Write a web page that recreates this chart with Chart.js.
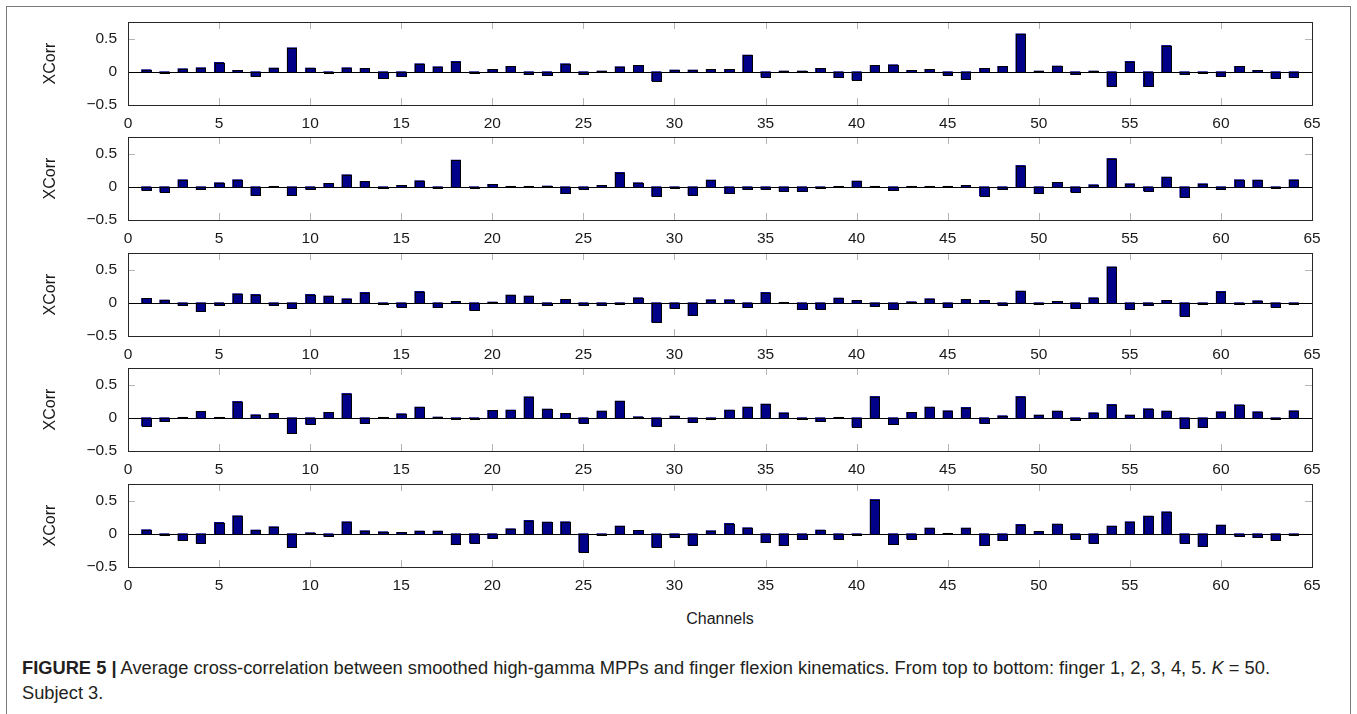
<!DOCTYPE html>
<html>
<head>
<meta charset="utf-8">
<title>Average cross-correlation per channel</title>
<script src="https://cdn.jsdelivr.net/npm/chart.js@4/dist/chart.umd.min.js"></script>
<style>
  html, body { margin: 0; padding: 0; background: #ffffff; }
  body { width: 1357px; height: 714px; position: relative; overflow: hidden;
         font-family: "Liberation Sans", Arial, Helvetica, sans-serif; }
  .frame { position: absolute; left: 6px; top: 6px; width: 1345px; height: 760px;
           border: 1px solid #7a7a7a; box-sizing: border-box; }
  canvas.panel { position: absolute; left: 0; }
  .xlabel { position: absolute; top: 610px; left: 620px; width: 200px; text-align: center;
            font-size: 16px; color: #1a1a1a; }
  .caption { position: absolute; left: 22px; top: 655px; width: 1330px; font-size: 18.3px;
             line-height: 25px; color: #231f20; white-space: nowrap; }
  .caption b { font-weight: bold; }
</style>
</head>
<body>
<div class="frame"></div>
<div id="panels"></div>
<div class="xlabel">Channels</div>
<div class="caption"><b>FIGURE 5 |</b> Average cross-correlation between smoothed high-gamma MPPs and finger flexion kinematics. From top to bottom: finger 1, 2, 3, 4, 5. <i>K</i> = 50.<br>Subject 3.</div>

<script>
// Electrode channels 1..64
const channels = [1,2,3,4,5,6,7,8,9,10,11,12,13,14,15,16,17,18,19,20,21,22,23,24,25,26,27,28,29,30,31,32,
                  33,34,35,36,37,38,39,40,41,42,43,44,45,46,47,48,49,50,51,52,53,54,55,56,57,58,59,60,61,62,63,64];

// Mean cross-correlation per channel, one array per finger
const finger1 = [0.03,-0.02,0.045,0.06,0.14,0.02,-0.065,0.055,0.36,0.055,-0.01,0.06,0.05,-0.10,-0.07,0.12,
                 0.075,0.155,-0.02,0.035,0.08,-0.04,-0.045,0.12,-0.04,0.01,0.075,0.095,-0.135,0.025,0.025,0.035,
                 0.035,0.25,-0.075,0.01,0.01,0.05,-0.085,-0.12,0.095,0.105,0.02,0.035,-0.045,-0.115,0.05,0.08,
                 0.57,0.01,0.085,-0.04,0.01,-0.215,0.155,-0.22,0.395,-0.035,-0.015,-0.065,0.08,0.02,-0.09,-0.08];
const finger2 = [-0.05,-0.075,0.105,-0.04,0.06,0.105,-0.125,0.005,-0.13,-0.035,0.05,0.18,0.08,-0.025,0.02,0.09,
                 -0.02,0.40,-0.005,0.035,0.005,0.005,0.01,-0.10,-0.03,0.02,0.215,0.06,-0.14,-0.01,-0.12,0.1,
                 -0.10,-0.04,-0.035,-0.06,-0.07,-0.02,0.005,0.085,0.005,-0.05,0.005,0.005,0.005,0.02,-0.135,-0.04,
                 0.32,-0.10,0.065,-0.075,0.03,0.425,0.045,-0.06,0.145,-0.155,0.045,-0.035,0.105,0.1,-0.01,0.105];
const finger3 = [0.065,0.04,-0.035,-0.13,-0.035,0.135,0.125,-0.03,-0.08,0.125,0.10,0.06,0.155,-0.005,-0.06,0.17,
                 -0.07,0.02,-0.11,0.01,0.115,0.10,-0.035,0.05,-0.035,-0.04,-0.02,0.075,-0.29,-0.08,-0.19,0.045,
                 0.045,-0.07,0.155,0.005,-0.10,-0.09,0.07,0.035,-0.05,-0.095,0.015,0.06,-0.07,0.05,0.035,-0.03,
                 0.175,-0.025,0.02,-0.08,0.075,0.54,-0.09,-0.04,0.035,-0.195,-0.025,0.17,-0.025,0.03,-0.06,-0.025];
const finger4 = [-0.12,-0.055,0.005,0.095,0.005,0.245,0.045,0.065,-0.23,-0.095,0.08,0.365,-0.075,0.005,0.06,0.16,
                 0.01,-0.01,-0.01,0.11,0.115,0.315,0.13,0.065,-0.075,0.10,0.25,0.015,-0.125,0.025,-0.07,-0.025,
                 0.115,0.16,0.205,0.075,-0.025,-0.055,0.005,-0.135,0.32,-0.10,0.08,0.16,0.105,0.155,-0.08,0.03,
                 0.32,0.04,0.10,-0.04,0.075,0.20,0.04,0.135,0.10,-0.155,-0.145,0.09,0.195,0.09,-0.025,0.105];
const finger5 = [0.06,-0.02,-0.095,-0.135,0.17,0.27,0.055,0.105,-0.20,0.015,-0.035,0.18,0.045,0.03,0.02,0.04,
                 0.04,-0.16,-0.135,-0.07,0.075,0.20,0.175,0.18,-0.27,-0.02,0.115,0.05,-0.20,-0.05,-0.165,0.045,
                 0.155,0.09,-0.13,-0.175,-0.085,0.055,-0.08,-0.01,0.515,-0.16,-0.075,0.085,0.005,0.085,-0.175,-0.10,
                 0.14,0.035,0.145,-0.08,-0.14,0.115,0.18,0.265,0.33,-0.135,-0.19,0.13,-0.035,-0.055,-0.095,-0.02];

// Axis ticks
const xTicks = [0,5,10,15,20,25,30,35,40,45,50,55,60,65];
const yTicks = [-0.5, 0, 0.5];

const fingers = [finger1, finger2, finger3, finger4, finger5];

// Vertical placement of each panel's plot box
const plotTops = [22, 137, 253, 368, 484];
const PLOT_H = 83, PAD_TOP = 24, XAXIS_H = 30, YAXIS_W = 128, RIGHT_PAD = 45;

const FONT = '"Liberation Sans", Arial, Helvetica, sans-serif';

const fmt = v => (v < 0 ? '\u2212' + Math.abs(v) : String(v));

// Bar outlines (stroked on the edge so even tiny bars stay visible),
// zero line, inward tick marks and the plot frame
const boxPlugin = {
  id: 'boxPlugin',
  afterDatasetsDraw(chart) {
    const { ctx, chartArea: a, scales: { x, y } } = chart;
    ctx.save();
    ctx.lineWidth = 1;

    // inward tick marks
    ctx.strokeStyle = '#b4b4b4';
    const tl = 7;
    ctx.beginPath();
    xTicks.forEach(v => {
      if (v === 0 || v === 65) return;
      const px = Math.round(x.getPixelForValue(v)) + 0.5;
      ctx.moveTo(px, a.top); ctx.lineTo(px, a.top + tl);
      ctx.moveTo(px, a.bottom); ctx.lineTo(px, a.bottom - tl);
    });
    yTicks.forEach(v => {
      if (v === 0 || v === -0.5) return;
      const py = Math.round(y.getPixelForValue(v)) + 0.5;
      ctx.moveTo(a.left, py); ctx.lineTo(a.left + tl, py);
      ctx.moveTo(a.right, py); ctx.lineTo(a.right - tl, py);
    });
    ctx.stroke();

    // zero line
    ctx.strokeStyle = '#000000';
    const zy = Math.round(y.getPixelForValue(0)) + 0.5;
    ctx.beginPath();
    ctx.moveTo(a.left, zy); ctx.lineTo(a.right, zy);
    ctx.stroke();

    // bar outlines from the library's laid-out bar elements
    ctx.strokeStyle = '#000000';
    chart.getDatasetMeta(0).data.forEach(bar => {
      const left = Math.round(bar.x - bar.width / 2) + 0.5;
      const right = Math.round(bar.x + bar.width / 2) + 0.5;
      const t = Math.round(Math.min(bar.y, bar.base)) + 0.5;
      const b = Math.round(Math.max(bar.y, bar.base)) + 0.5;
      ctx.strokeRect(left, t, right - left, Math.max(b - t, 1));
    });

    // plot frame
    ctx.strokeStyle = '#262626';
    ctx.strokeRect(Math.round(a.left) + 0.5, Math.round(a.top) + 0.5,
                   Math.round(a.right - a.left), Math.round(a.bottom - a.top));
    ctx.restore();
  }
};

const holder = document.getElementById('panels');

fingers.forEach((values, i) => {
  const cv = document.createElement('canvas');
  cv.className = 'panel';
  cv.width = 1357;
  cv.height = PAD_TOP + PLOT_H + XAXIS_H;
  cv.style.top = (plotTops[i] - PAD_TOP) + 'px';
  cv.style.width = '1357px';
  cv.style.height = cv.height + 'px';
  holder.appendChild(cv);

  new Chart(cv.getContext('2d'), {
    type: 'bar',
    data: {
      datasets: [{
        data: channels.map((c, k) => ({ x: c, y: values[k] })),
        backgroundColor: '#000088',
        borderWidth: 0,
        inflateAmount: 0.5,
        barPercentage: 0.5,
        categoryPercentage: 1.0
      }]
    },
    options: {
      responsive: false,
      animation: false,
      devicePixelRatio: 1,
      layout: { padding: { top: PAD_TOP, right: RIGHT_PAD, left: 0, bottom: 0 } },
      plugins: { legend: { display: false }, tooltip: { enabled: false } },
      scales: {
        x: {
          type: 'linear',
          min: 0, max: 65,
          offset: false,
          grid: { display: false, drawTicks: false },
          border: { display: false },
          afterBuildTicks: s => { s.ticks = xTicks.map(v => ({ value: v })); },
          afterFit: s => { s.height = XAXIS_H; },
          ticks: {
            maxRotation: 0, autoSkip: false, padding: 9,
            color: '#1a1a1a',
            font: { family: FONT, size: 15.5 },
            callback: v => fmt(v)
          }
        },
        y: {
          min: -0.5, max: 0.75,
          grid: { display: false, drawTicks: false },
          border: { display: false },
          afterBuildTicks: s => { s.ticks = yTicks.map(v => ({ value: v })); },
          afterFit: s => { s.width = YAXIS_W; },
          ticks: {
            padding: 11,
            color: '#1a1a1a',
            font: { family: FONT, size: 15.5 },
            callback: v => fmt(v)
          },
          title: {
            display: true,
            text: 'XCorr',
            color: '#1a1a1a',
            font: { family: FONT, size: 16 },
            padding: { top: 41, bottom: 0 }
          }
        }
      }
    },
    plugins: [boxPlugin]
  });
});
</script>
</body>
</html>
